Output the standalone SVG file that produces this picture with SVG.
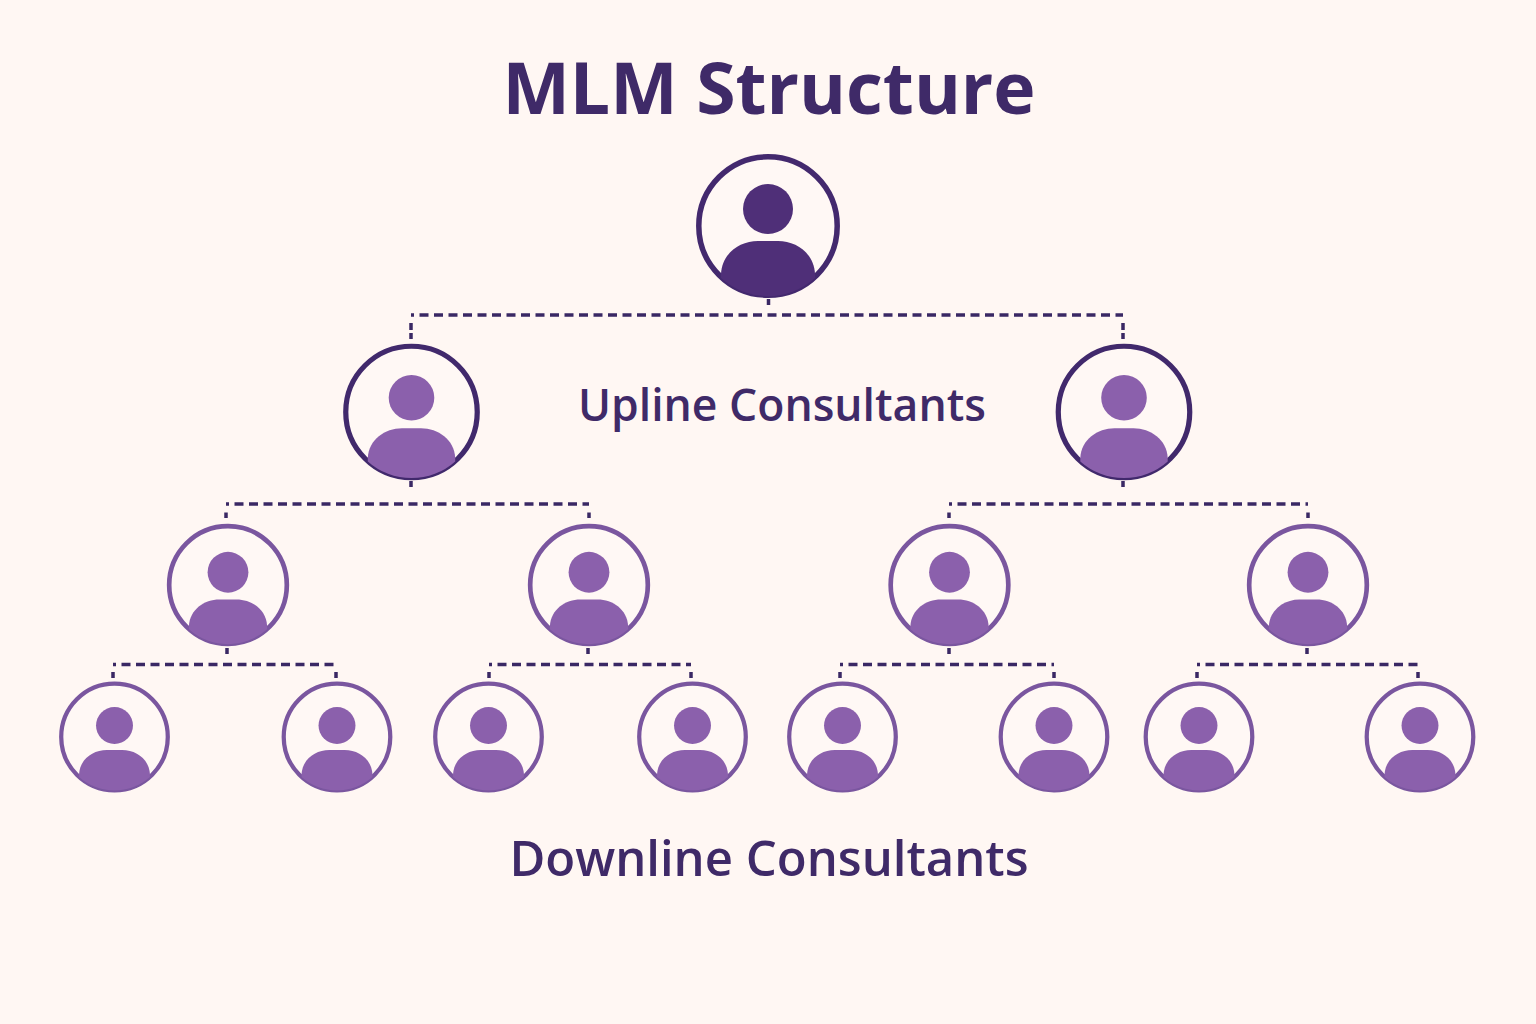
<svg xmlns="http://www.w3.org/2000/svg" width="1536" height="1024" viewBox="0 0 1536 1024">
<style>
text{font-family:"Open Sans","Noto Sans","Liberation Sans",sans-serif;font-weight:600;fill:#3f2a68;text-anchor:middle}
.ring{fill:#fff8f5;stroke:currentColor;stroke-width:5.500}
.conn{fill:none;stroke:#3a2864;stroke-width:3.500;stroke-dasharray:9 5.500;stroke-dashoffset:6}
.stub{fill:none;stroke:#3a2864;stroke-width:3.500}
.top{color:#43296e;fill:#4f2f78}
.up{color:#41296c;fill:#8b60ac}
.mid,.low{color:#7a569f;fill:#8b60ac}
</style>
<defs>
<g id="p">
<circle class="ring" r="69.200"/>
<circle cx="0" cy="-17" r="25"/>
<path d="M-47,48C-46,27-28,15-10,15H10C28,15 46,27 47,48L47,52A70,70 0 0 1-47,52Z"/>
</g>
<g id="q">
<circle class="ring" r="69.200"/>
<circle cx="0" cy="-15" r="24"/>
<path d="M-46,48C-45,29-28,17-10,17H10C28,17 45,29 46,48L46,52A69,69 0 0 1-46,52Z"/>
</g>
</defs>
<rect width="1536" height="1024" fill="#fff7f3"/>
<text x="769" y="114" font-size="71.500" style="font-weight:700">MLM Structure</text>
<text x="782" y="421" font-size="44.500">Upline Consultants</text>
<text x="769" y="876" font-size="49">Downline Consultants</text>
<g id="connectors">
<path class="conn" d="M411,315H1123"/>
<path class="stub" d="M768.500,299V305M411,323V330M411,333V339M1123,323V330M1123,333V339M411,481V487M1123,481V487M227,648V654M588,648V654M949,648V654M1307,648V654M226,512.500V518M589,512.500V518M949,512.500V518M1308,512.500V518M113,672V678M336,672V678M489,672V678M691,672V678M840,672V678M1054,672V678M1197,672V678M1418,672V678"/>
<path class="conn" d="M226,504H589"/>
<path class="conn" d="M949,504H1308"/>
<path class="conn" d="M113,664.500H336"/>
<path class="conn" d="M489,664.500H691"/>
<path class="conn" d="M840,664.500H1054"/>
<path class="conn" d="M1197,664.500H1418"/>
</g>
<g id="node-top" class="top"><use href="#p" transform="translate(768,226)"/></g>
<g id="node-up-1" class="up"><use href="#q" transform="translate(411.500,412) scale(.95)"/></g>
<g id="node-up-2" class="up"><use href="#q" transform="translate(1124,412) scale(.95)"/></g>
<g id="node-mid-1" class="mid"><use href="#q" transform="translate(228,585) scale(.85)"/></g>
<g id="node-mid-2" class="mid"><use href="#q" transform="translate(589,585) scale(.85)"/></g>
<g id="node-mid-3" class="mid"><use href="#q" transform="translate(949.500,585) scale(.85)"/></g>
<g id="node-mid-4" class="mid"><use href="#q" transform="translate(1308,585) scale(.85)"/></g>
<g id="node-low-1" class="low"><use href="#q" transform="translate(114.500,737) scale(.77)"/></g>
<g id="node-low-2" class="low"><use href="#q" transform="translate(337,737) scale(.77)"/></g>
<g id="node-low-3" class="low"><use href="#q" transform="translate(488.500,737) scale(.77)"/></g>
<g id="node-low-4" class="low"><use href="#q" transform="translate(692.500,737) scale(.77)"/></g>
<g id="node-low-5" class="low"><use href="#q" transform="translate(842.500,737) scale(.77)"/></g>
<g id="node-low-6" class="low"><use href="#q" transform="translate(1054,737) scale(.77)"/></g>
<g id="node-low-7" class="low"><use href="#q" transform="translate(1199,737) scale(.77)"/></g>
<g id="node-low-8" class="low"><use href="#q" transform="translate(1420,737) scale(.77)"/></g>
</svg>
